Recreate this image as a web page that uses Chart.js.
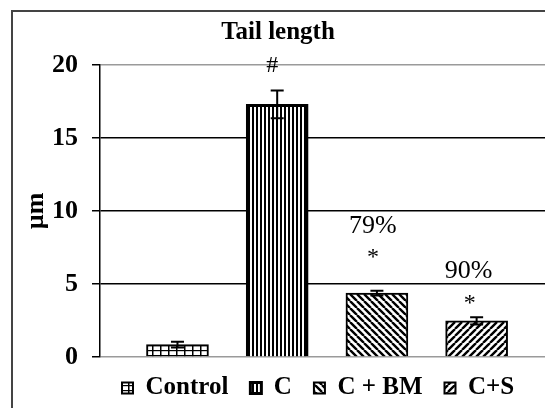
<!DOCTYPE html>
<html>
<head>
<meta charset="utf-8">
<script src="https://cdn.jsdelivr.net/npm/chart.js@4.4.1/dist/chart.umd.min.js"></script>
<style>
  html, body { margin: 0; padding: 0; background: #fff; overflow: hidden; }
  #wrap { position: relative; width: 556px; height: 414px; }
</style>
</head>
<body>
<div id="wrap"><canvas id="c" width="556" height="414"></canvas></div>
<script>
// ---- data ----
const chartTitle = 'Tail length';
const yAxisTitle = 'µm';
const categories = ['Control', 'C', 'C + BM', 'C+S'];
const means  = [0.85, 17.3, 4.38, 2.47];
const errors = [0.2, 0.95, 0.16, 0.25];
const yTicks = [0, 5, 10, 15, 20];
// text annotations placed in data units (x = category index, y = value)
const annotTexts = ['#', '79%', '*', '90%', '*'];
const annotX     = [0.95, 1.96, 1.96, 2.92, 2.93];
const annotY     = [19.93, 8.95, 6.82, 5.9, 3.68];

// ---- patterns ----
function makePattern(kind) {
  const c = document.createElement('canvas');
  let ctx;
  if (kind === 'grid') {
    c.width = 8; c.height = 5; ctx = c.getContext('2d');
    ctx.fillStyle = '#fff'; ctx.fillRect(0, 0, 8, 5);
    ctx.fillStyle = '#000';
    ctx.fillRect(0, 0, 1.5, 5);
    ctx.fillRect(0, 0, 8, 1.2);
  } else if (kind === 'vert') {
    c.width = 4; c.height = 4; ctx = c.getContext('2d');
    ctx.fillStyle = '#fff'; ctx.fillRect(0, 0, 4, 4);
    ctx.fillStyle = '#000'; ctx.fillRect(0, 0, 2, 4);
  } else {
    const s = 7;
    c.width = s; c.height = s; ctx = c.getContext('2d');
    ctx.fillStyle = '#fff'; ctx.fillRect(0, 0, s, s);
    ctx.strokeStyle = '#000'; ctx.lineWidth = 2.4;
    ctx.beginPath();
    for (const o of [-s, 0, s]) {
      if (kind === 'back') { ctx.moveTo(o, 0); ctx.lineTo(o + s, s); }
      else { ctx.moveTo(o, s); ctx.lineTo(o + s, 0); }
    }
    ctx.stroke();
  }
  return document.createElement('canvas').getContext('2d').createPattern(c, 'repeat');
}
const fills = [makePattern('grid'), makePattern('vert'), makePattern('back'), makePattern('fwd')];
const borderWidths = [2, 3, 2, 2];

const FONT = "'Liberation Serif', 'Times New Roman', serif";
Chart.defaults.font.family = FONT;
Chart.defaults.color = '#000';

const frame = {
  id: 'frame',
  beforeDraw(chart) {
    const ctx = chart.ctx;
    ctx.save();
    ctx.fillStyle = '#444';
    ctx.fillRect(11, 10, 2, chart.height);
    ctx.fillRect(11, 10, chart.width, 2);
    ctx.restore();
  }
};

// nudge the legend a little upward after layout
const legendNudge = {
  id: 'legendNudge',
  afterLayout(chart) {
    if (chart.legend) { chart.legend.top -= 3.5; chart.legend.bottom -= 3.5; }
  }
};

const errorBars = {
  id: 'errorBars',
  afterDatasetsDraw(chart) {
    const ctx = chart.ctx, ys = chart.scales.y;
    ctx.save();
    ctx.strokeStyle = '#000';
    ctx.lineWidth = 2;
    chart.data.datasets.forEach((ds, i) => {
      const el = chart.getDatasetMeta(i).data[0];
      if (!el) return;
      const x = el.x;
      const top = ys.getPixelForValue(means[i] + errors[i]);
      const bot = ys.getPixelForValue(means[i] - errors[i]);
      ctx.beginPath();
      ctx.moveTo(x, top); ctx.lineTo(x, bot);
      ctx.moveTo(x - 6.5, top); ctx.lineTo(x + 6.5, top);
      ctx.moveTo(x - 6.5, bot); ctx.lineTo(x + 6.5, bot);
      ctx.stroke();
    });
    ctx.restore();
  }
};

const annotations = {
  id: 'annotations',
  afterDatasetsDraw(chart) {
    const ctx = chart.ctx, xs = chart.scales.x, ys = chart.scales.y;
    ctx.save();
    ctx.fillStyle = '#000';
    ctx.textAlign = 'center';
    ctx.textBaseline = 'middle';
    annotTexts.forEach((t, i) => {
      const size = t.includes('%') ? 26 : 24;
      ctx.font = size + 'px ' + FONT;
      ctx.fillText(t, xs.getPixelForValue(annotX[i]), ys.getPixelForValue(annotY[i]));
    });
    ctx.restore();
  }
};

new Chart(document.getElementById('c'), {
  type: 'bar',
  data: {
    datasets: categories.map((name, i) => ({
      label: name,
      data: [{ x: i, y: means[i] }],
      backgroundColor: fills[i],
      borderColor: '#000',
      borderWidth: borderWidths[i],
      barThickness: 62,
      grouped: false
    }))
  },
  options: {
    responsive: false,
    animation: false,
    events: [],
    layout: { padding: 0 },
    scales: {
      x: {
        type: 'linear',
        offset: false,
        min: -0.777,
        max: 3.796,
        display: false
      },
      y: {
        min: 0,
        max: 20,
        afterBuildTicks(scale) { scale.ticks = yTicks.map(v => ({ value: v })); },
        afterFit(scale) { scale.width = 100; },
        border: { display: true, color: '#000', width: 1.5 },
        grid: {
          color: ctx => (ctx.tick && (ctx.tick.value === 0 || ctx.tick.value === 20)) ? '#9a9a9a' : '#000',
          lineWidth: 1.5,
          tickLength: 8,
          tickColor: '#000',
          drawTicks: true
        },
        ticks: {
          padding: 14,
          color: '#000',
          font: { family: FONT, size: 26, weight: 'bold' }
        },
        title: {
          display: true,
          text: yAxisTitle,
          color: '#000',
          font: { family: FONT, size: 26, weight: 'bold' },
          padding: { top: 21, bottom: 0 }
        }
      }
    },
    plugins: {
      title: {
        display: true,
        text: chartTitle,
        color: '#000',
        font: { family: FONT, size: 25, weight: 'bold' },
        padding: { top: 17.6, bottom: 17.4 }
      },
      legend: {
        position: 'bottom',
        fullSize: false,
        align: 'start',
        labels: {
          boxWidth: 11,
          boxHeight: 11,
          padding: 22,
          color: '#000',
          font: { family: FONT, size: 25, weight: 'bold' }
        }
      },
      tooltip: { enabled: false }
    }
  },
  plugins: [frame, legendNudge, errorBars, annotations]
});
</script>
</body>
</html>
